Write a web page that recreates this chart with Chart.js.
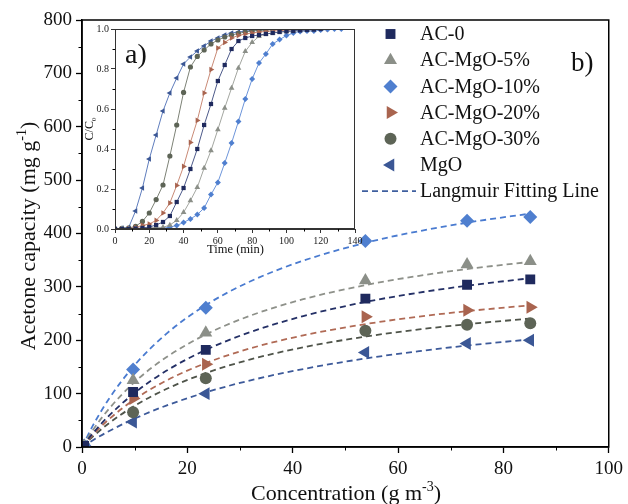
<!DOCTYPE html>
<html>
<head>
<meta charset="utf-8">
<script src="https://cdn.jsdelivr.net/npm/chart.js@4.4.1/dist/chart.umd.min.js"></script>
<style>
  body { margin: 0; background: #fff; }
  #wrap { position: relative; width: 628px; height: 504px; overflow: hidden; }
  #main { position: absolute; left: 0; top: 0; }
  #inset { position: absolute; left: 84px; top: 18px; }
</style>
</head>
<body>
<div id="wrap">
  <canvas id="main" width="628" height="504"></canvas>
  <canvas id="inset" width="285" height="246"></canvas>
</div>
<script>
var serif = "'Liberation Serif', 'Times New Roman', serif";
Chart.defaults.font.family = serif;
Chart.defaults.color = '#111';

var seriesNames = ['AC-0', 'AC-MgO-5%', 'AC-MgO-10%', 'AC-MgO-20%', 'AC-MgO-30%', 'MgO'];
var markerColors = ['#1f2a5e', '#8b8f88', '#4f7fcf', '#a9644f', '#5d6456', '#3b5795'];
var lineColors = ['#243066', '#8e918a', '#4a7bd0', '#b06a55', '#4f544a', '#3d5a9a'];
var insetLineColors = ['#4d5a8a', '#a3a6a0', '#6d95da', '#c98a76', '#7d8276', '#5f7dbd'];
var pointStyles = ['rect', 'triangle', 'rectRot', 'triangle', 'circle', 'triangle'];
var pointRotations = [0, 0, 0, 90, 0, -90];
var mainRadius = [7, 7.5, 7, 7.5, 6, 7.5];
var insetRadius = [3, 3.3, 3, 3.3, 2.6, 3.3];

// b) capacity (mg/g) vs concentration (g/m3)
var concentration = [0.4, 9.7, 23.5, 53.8, 73.1, 85.1];
var capAC0  = [2, 103, 182, 278, 304, 314];
var capMg5  = [2, 125, 214, 312, 342, 348];
var capMg10 = [3, 145, 261, 386, 424, 431];
var capMg20 = [2, 91, 155, 244, 256, 262];
var capMg30 = [2, 65, 129, 218, 229, 232];
var capMgO  = [1, 47, 100, 177, 194, 200];

// Langmuir fitting lines
var fitConc  = [0, 2, 5, 10, 16, 23.5, 32, 42, 54, 64, 74, 85];
var fitAC0   = [0, 24.9, 57.4, 101.5, 142.7, 181.9, 215.5, 245.3, 272.1, 289.3, 303.3, 316.1];
var fitMg5   = [0, 30.9, 70.1, 121.8, 168.1, 210.8, 246.2, 276.9, 303.7, 320.8, 334.5, 346.7];
var fitMg10  = [0, 39.0, 88.5, 153.5, 212.0, 265.8, 310.5, 349.1, 383.0, 404.4, 421.7, 437.1];
var fitMg20  = [0, 22.3, 51.0, 89.3, 124.4, 157.2, 184.9, 209.1, 230.6, 244.3, 255.4, 265.4];
var fitMg30  = [0, 19.0, 43.7, 77.3, 108.6, 138.5, 164.1, 186.8, 207.1, 220.3, 230.9, 240.6];
var fitMgO   = [0, 12.3, 29.1, 53.3, 77.6, 102.3, 124.9, 146.1, 166.1, 179.6, 191.0, 201.5];

// a) breakthrough curves C/C0 vs time (min)
var time = [0, 4, 8, 12, 16, 20, 24, 28, 32, 36, 40, 44, 48, 52, 56, 60, 64, 68, 72, 76, 80,
            84, 88, 92, 96, 100, 104, 108, 112, 116, 120, 124, 128, 132];
var ccAC0  = [0, 0, 0, 0.002, 0.005, 0.01, 0.02, 0.035, 0.065, 0.135, 0.205, 0.30, 0.40, 0.52, 0.625,
              0.74, 0.82, 0.90, 0.94, 0.955, 0.965, 0.97, 0.975, 0.98, 0.985, 0.988, 0.99, 0.993, 0.995, 0.997, 1.0];
var ccMg5  = [0, 0, 0, 0, 0.003, 0.005, 0.008, 0.008, 0.02, 0.043, 0.083, 0.142, 0.208, 0.305, 0.392,
              0.497, 0.605, 0.705, 0.805, 0.888, 0.933, 0.963, 0.975, 0.98, 0.985, 0.988, 0.99, 0.993, 0.995, 0.997, 1.0];
var ccMg10 = [0, 0, 0, 0, 0, 0, 0.002, 0.003, 0.01, 0.017, 0.033, 0.05, 0.072, 0.105, 0.172, 0.233, 0.33,
              0.43, 0.538, 0.65, 0.75, 0.83, 0.875, 0.925, 0.947, 0.967, 0.98, 0.988, 0.99, 0.99, 0.995, 0.997, 1.0, 1.0];
var ccMg20 = [0, 0, 0.003, 0.008, 0.018, 0.025, 0.043, 0.08, 0.13, 0.218, 0.313, 0.433, 0.543, 0.68, 0.797,
              0.905, 0.933, 0.955, 0.968, 0.975, 0.98, 0.985, 0.988, 0.99, 0.992, 0.994, 0.995, 0.997, 0.998, 1.0, 1.0, 1.0];
var ccMg30 = [0, 0.003, 0.005, 0.013, 0.038, 0.08, 0.147, 0.22, 0.365, 0.52, 0.683, 0.81, 0.863, 0.895, 0.925,
              0.945, 0.96, 0.97, 0.978, 0.985, 0.99, 0.993, 0.995, 0.997, 1.0];
var ccMgO  = [0, 0.005, 0.008, 0.09, 0.205, 0.35, 0.47, 0.59, 0.68, 0.755, 0.825, 0.86, 0.89, 0.915, 0.94,
              0.955, 0.97, 0.98, 0.985, 0.99, 0.993, 0.995, 0.997, 0.998, 1.0];

var capSeries = [capAC0, capMg5, capMg10, capMg20, capMg30, capMgO];
var fitSeries = [fitAC0, fitMg5, fitMg10, fitMg20, fitMg30, fitMgO];
var ccSeries = [ccAC0, ccMg5, ccMg10, ccMg20, ccMg30, ccMgO];

function pairs(xs, ys) {
    return ys.map(function (y, i) { return { x: xs[i], y: y }; });
}

function drawMinor(chart, id, vals, len) {
    var s = chart.scales[id], ctx = chart.ctx, a = chart.chartArea;
    ctx.save();
    ctx.strokeStyle = '#000';
    ctx.lineWidth = 1;
    ctx.beginPath();
    vals.forEach(function (v) {
        var p = Math.round(s.getPixelForValue(v)) + 0.5;
        if (s.axis === 'x') { ctx.moveTo(p, a.bottom); ctx.lineTo(p, a.bottom + len); }
        else { ctx.moveTo(a.left, p); ctx.lineTo(a.left - len, p); }
    });
    ctx.stroke();
    ctx.restore();
}

// text with super/subscripts: parts = [[text, shift]], shift -1 sup, 1 sub
function richText(ctx, parts, x, y, size) {
    var small = Math.round(size * 0.62);
    var w = 0;
    parts.forEach(function (p) {
        ctx.font = (p[1] ? small : size) + 'px ' + serif;
        w += ctx.measureText(p[0]).width;
    });
    var cx = x - w / 2;
    ctx.textAlign = 'left';
    ctx.textBaseline = 'alphabetic';
    parts.forEach(function (p) {
        ctx.font = (p[1] ? small : size) + 'px ' + serif;
        var dy = p[1] < 0 ? -size * 0.42 : (p[1] > 0 ? size * 0.22 : 0);
        ctx.fillText(p[0], cx, y + dy);
        cx += ctx.measureText(p[0]).width;
    });
}

var mainDecor = {
    id: 'mainDecor',
    afterDraw: function (chart) {
        var ctx = chart.ctx, a = chart.chartArea;
        ctx.save();
        ctx.strokeStyle = '#000';
        ctx.lineWidth = 1.5;
        ctx.strokeRect(a.left, a.top, a.right - a.left, a.bottom - a.top);
        ctx.restore();
        drawMinor(chart, 'x', [10, 30, 50, 70, 90], 3.5);
        drawMinor(chart, 'y', [50, 150, 250, 350, 450, 550, 650, 750], 3.5);

        ctx.save();
        ctx.fillStyle = '#111';
        richText(ctx, [['Concentration (g m', 0], ['-3', -1], [')', 0]], 346, 500, 22);
        ctx.translate(35, 236);
        ctx.rotate(-Math.PI / 2);
        richText(ctx, [['Acetone capacity (mg g', 0], ['-1', -1], [')', 0]], 0, 0, 22);
        ctx.restore();

        ctx.save();
        ctx.fillStyle = '#111';
        ctx.font = '27px ' + serif;
        ctx.textAlign = 'left';
        ctx.textBaseline = 'alphabetic';
        ctx.fillText('b)', 571, 71);

        // legend
        var lx = 390.5, ly = 34, step = 26.2;
        ctx.font = '20px ' + serif;
        ctx.textBaseline = 'middle';
        for (var i = 0; i < seriesNames.length; i++) {
            var y = ly + i * step;
            ctx.fillStyle = markerColors[i];
            Chart.helpers.drawPoint(ctx, {
                pointStyle: pointStyles[i], rotation: pointRotations[i],
                radius: mainRadius[i], borderWidth: 0
            }, lx, y);
            ctx.fillStyle = '#111';
            ctx.fillText(seriesNames[i], 420, y + 1);
        }
        var dy = ly + 6 * step;
        ctx.strokeStyle = '#3f5f9f';
        ctx.lineWidth = 1.8;
        ctx.setLineDash([6, 4]);
        ctx.beginPath();
        ctx.moveTo(362, dy);
        ctx.lineTo(416, dy);
        ctx.stroke();
        ctx.setLineDash([]);
        ctx.fillStyle = '#111';
        ctx.fillText('Langmuir Fitting Line', 420, dy + 1);
        ctx.restore();
    }
};

var mainSets = [];
for (var i = 0; i < seriesNames.length; i++) {
    mainSets.push({
        label: seriesNames[i],
        data: pairs(concentration, capSeries[i]),
        showLine: false,
        pointStyle: pointStyles[i],
        pointRotation: pointRotations[i],
        pointRadius: mainRadius[i],
        pointBackgroundColor: markerColors[i],
        pointBorderWidth: 0,
        order: 0
    });
}
for (var j = 0; j < seriesNames.length; j++) {
    mainSets.push({
        label: 'fit ' + seriesNames[j],
        data: pairs(fitConc, fitSeries[j]),
        showLine: true,
        borderColor: lineColors[j],
        borderWidth: 1.8,
        borderDash: [6, 4],
        pointRadius: 0,
        cubicInterpolationMode: 'monotone',
        order: 1
    });
}

new Chart('main', {
    type: 'scatter',
    data: { datasets: mainSets },
    options: {
        responsive: false,
        animation: false,
        layout: { padding: { top: 20, right: 16, left: 0, bottom: 0 } },
        plugins: { legend: { display: false }, tooltip: { enabled: false } },
        scales: {
            x: {
                type: 'linear', min: 0, max: 100,
                ticks: { stepSize: 20, font: { size: 19 }, color: '#111', padding: 5, maxRotation: 0 },
                grid: { drawOnChartArea: false, tickLength: 6, tickColor: '#000', tickWidth: 1.3 },
                border: { color: '#000', width: 1.5 },
                afterFit: function (s) { s.height = 57; }
            },
            y: {
                type: 'linear', min: 0, max: 800,
                ticks: { stepSize: 100, font: { size: 19 }, color: '#111', padding: 4 },
                grid: { drawOnChartArea: false, tickLength: 6, tickColor: '#000', tickWidth: 1.3 },
                border: { color: '#000', width: 1.5 },
                afterFit: function (s) { s.width = 82; }
            }
        }
    },
    plugins: [mainDecor]
});

var insetDecor = {
    id: 'insetDecor',
    afterDraw: function (chart) {
        var ctx = chart.ctx, a = chart.chartArea;
        ctx.save();
        ctx.strokeStyle = '#333';
        ctx.lineWidth = 1;
        ctx.strokeRect(a.left + 0.5, a.top + 0.5, a.right - a.left - 1, a.bottom - a.top - 1);
        ctx.restore();
        drawMinor(chart, 'x', [10, 30, 50, 70, 90, 110, 130], 2.5);
        drawMinor(chart, 'y', [0.1, 0.3, 0.5, 0.7, 0.9], 2.5);

        ctx.save();
        ctx.fillStyle = '#111';
        ctx.font = '28px ' + serif;
        ctx.textBaseline = 'alphabetic';
        ctx.fillText('a)', 41, 45);
        richText(ctx, [['Time (min)', 0]], 151.5, 234.5, 12.5);
        ctx.translate(9, 111);
        ctx.rotate(-Math.PI / 2);
        richText(ctx, [['C/C', 0], ['0', 1]], 0, 0, 12);
        ctx.restore();
    }
};

var insetSets = [];
for (var k = 0; k < seriesNames.length; k++) {
    insetSets.push({
        label: seriesNames[k],
        data: pairs(time, ccSeries[k]),
        showLine: true,
        borderColor: insetLineColors[k],
        borderWidth: 1,
        pointStyle: pointStyles[k],
        pointRotation: pointRotations[k],
        pointRadius: insetRadius[k],
        pointBackgroundColor: markerColors[k],
        pointBorderWidth: 0
    });
}

new Chart('inset', {
    type: 'scatter',
    data: { datasets: insetSets },
    options: {
        responsive: false,
        animation: false,
        layout: { padding: { top: 11, right: 14, left: 0, bottom: 0 } },
        plugins: { legend: { display: false }, tooltip: { enabled: false } },
        scales: {
            x: {
                type: 'linear', min: 0, max: 140,
                ticks: { stepSize: 20, font: { size: 10 }, color: '#222', padding: 2, maxRotation: 0 },
                grid: { drawOnChartArea: false, tickLength: 4, tickColor: '#333' },
                border: { color: '#333', width: 1 },
                afterFit: function (s) { s.height = 35; }
            },
            y: {
                type: 'linear', min: 0, max: 1,
                ticks: { stepSize: 0.2, font: { size: 10 }, color: '#222', padding: 2,
                         callback: function (v) { return v.toFixed(1); } },
                grid: { drawOnChartArea: false, tickLength: 4, tickColor: '#333' },
                border: { color: '#333', width: 1 },
                afterFit: function (s) { s.width = 31; }
            }
        }
    },
    plugins: [insetDecor]
});
</script>
</body>
</html>
